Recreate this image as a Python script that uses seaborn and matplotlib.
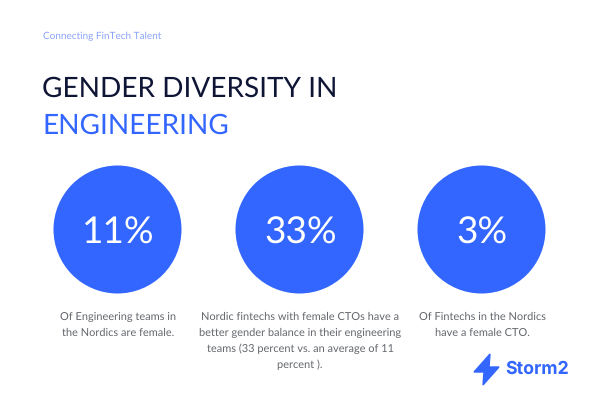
import pandas as pd
import matplotlib.pyplot as plt
import seaborn as sns

tagline = "Connecting FinTech Talent"
title_lines = ["GENDER DIVERSITY IN", "ENGINEERING"]
labels = ["11%", "33%", "3%"]
captions = [
    "Of Engineering teams in\nthe Nordics are female.",
    "Nordic fintechs with female CTOs have a\nbetter gender balance in their engineering\nteams (33 percent vs. an average of 11\npercent ).",
    "Of Fintechs in the Nordics\nhave a female CTO.",
]
BLUE = "#3366ff"
NAVY = "#0f1535"
W, H = 600, 400

sns.set_theme(style="white")
plt.rcParams["font.family"] = ["Lato", "DejaVu Sans"]
plt.rcParams["text.hinting"] = "none"
plt.rcParams["text.hinting_factor"] = 1

df = pd.DataFrame({"label": labels, "row": [""] * len(labels)})

fig = plt.figure(figsize=(6, 4), dpi=100)
ax = fig.add_axes([0, 0, 1, 1])

# circle diameter is 128 px = 92 pt
sns.scatterplot(data=df, x="label", y="row", s=92.16**2, color=BLUE, linewidth=0, legend=False, ax=ax)
ax.set_xlim(-117 / 182, 483 / 182)
ax.set_ylim(-171 / 182, 229 / 182)
ax.axis("off")


def px(x, y):
    return x / W, 1 - y / H


fig.text(*px(43, 36), tagline, color="#8aa4fb", fontsize=7, va="center")
fig.text(*px(42, 89), title_lines[0], color=NAVY, fontsize=20, va="center")
fig.text(*px(42.5, 125.5), title_lines[1], color=BLUE, fontsize=20, va="center")

for i, lab in enumerate(labels):
    ax.text(i + 0.008, -0.025, lab, color="white", fontsize=26.5, ha="center", va="center")

for x, cap in zip([118, 300, 482], captions):
    fig.text(*px(x, 312), cap, color="#63666c", fontsize=7.72, ha="center", va="top", linespacing=1.67)

# logo
bolt = [(490, 354), (474, 372), (484, 372), (483, 385), (499, 367), (489, 367)]
fig.add_artist(plt.Polygon([px(x, y) for x, y in bolt], closed=True, color=BLUE, transform=fig.transFigure))
fig.text(*px(505, 369), "Storm2", color=BLUE, fontsize=12.8, fontweight="bold", va="center", family=["Inter", "DejaVu Sans"])

plt.savefig("out.png", dpi=100)
